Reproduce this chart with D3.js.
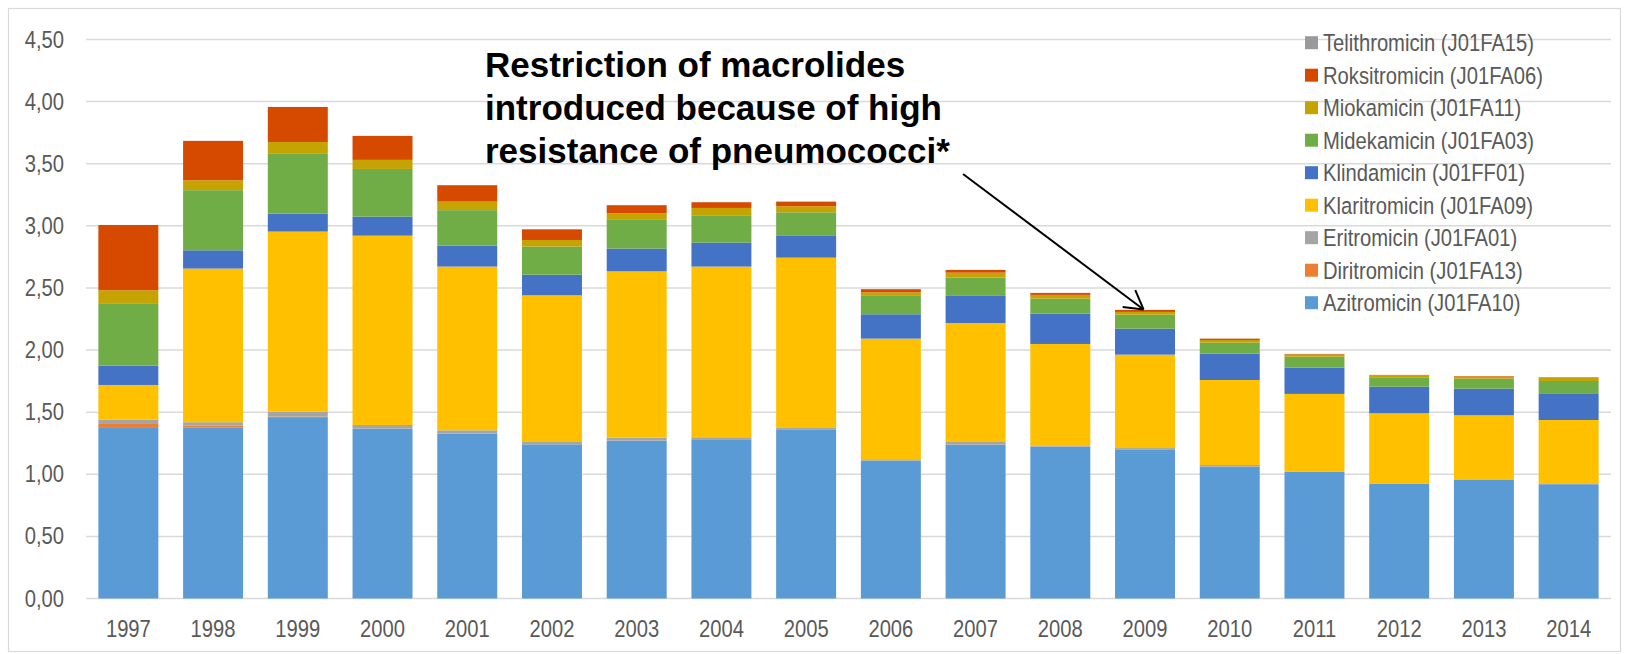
<!DOCTYPE html>
<html>
<head>
<meta charset="utf-8">
<script src="https://cdn.jsdelivr.net/npm/d3@7"></script>
<style>
  body { margin: 0; background: #fff; }
  svg text { font-family: "Liberation Sans", Arial, sans-serif; }
</style>
</head>
<body>
<div id="dataviz"></div>
<script>
// chart size
var width = 1625,
    height = 654;
// no narrow font installed, so squeeze Liberation Sans like Arial Narrow
var narrow = 0.86;

// data (DDD / 1000 inhabitants / day), stacked bottom -> top
var years = ["1997","1998","1999","2000","2001","2002","2003","2004","2005",
             "2006","2007","2008","2009","2010","2011","2012","2013","2014"];

var azitromicin   = [1.373,1.375,1.460,1.367,1.327,1.241,1.271,1.282,1.362,1.110,1.238,1.222,1.201,1.061,1.020,0.925,0.958,0.920];
var diritromicin  = [0.032,0.017,0.004,0.000,0.000,0.000,0.000,0.000,0.000,0.000,0.000,0.000,0.000,0.000,0.000,0.000,0.000,0.000];
var eritromicin   = [0.035,0.027,0.040,0.030,0.027,0.019,0.024,0.016,0.011,0.011,0.022,0.011,0.010,0.014,0.004,0.002,0.002,0.002];
var klaritromicin = [0.279,1.237,1.450,1.524,1.318,1.181,1.339,1.374,1.371,0.971,0.958,0.816,0.752,0.684,0.623,0.564,0.515,0.515];
var klindamicin   = [0.156,0.147,0.144,0.153,0.169,0.166,0.183,0.193,0.175,0.196,0.218,0.244,0.209,0.212,0.211,0.214,0.214,0.215];
var midekamicin   = [0.502,0.484,0.486,0.384,0.285,0.226,0.236,0.220,0.190,0.148,0.147,0.121,0.113,0.089,0.089,0.076,0.081,0.099];
var miokamicin    = [0.104,0.080,0.091,0.073,0.069,0.053,0.048,0.059,0.049,0.029,0.040,0.030,0.022,0.021,0.018,0.015,0.017,0.026];
var roksitromicin = [0.526,0.317,0.282,0.193,0.132,0.086,0.065,0.046,0.037,0.025,0.022,0.016,0.016,0.011,0.004,0.004,0.004,0.004];
var telitromicin  = [0,0,0,0,0,0,0,0,0,0,0,0,0,0,0,0,0,0];

var seriesNames = ["Azitromicin (J01FA10)","Diritromicin (J01FA13)","Eritromicin (J01FA01)",
                   "Klaritromicin (J01FA09)","Klindamicin (J01FF01)","Midekamicin (J01FA03)",
                   "Miokamicin (J01FA11)","Roksitromicin (J01FA06)","Telithromicin (J01FA15)"];
var seriesValues = [azitromicin, diritromicin, eritromicin, klaritromicin, klindamicin,
                    midekamicin, miokamicin, roksitromicin, telitromicin];
var seriesColors = ["#5b9bd5","#ed7d31","#a5a5a5","#ffc000","#4472c4","#70ad47","#c4a302","#d64a00","#9a9a9a"];

var yTicks = [0,0.5,1,1.5,2,2.5,3,3.5,4,4.5];

var annotation = ["Restriction of macrolides",
                  "introduced because of high",
                  "resistance of pneumococci*"];

// build rows for d3.stack
var rows = years.map(function(y, i) {
  var r = { year: y };
  seriesNames.forEach(function(n, k) { r[n] = seriesValues[k][i]; });
  return r;
});
var stacked = d3.stack().keys(seriesNames)(rows);

var svg = d3.select("#dataviz").append("svg")
    .attr("width", width)
    .attr("height", height);

// outer frame
svg.append("rect")
    .attr("x", 8.5).attr("y", 8.5)
    .attr("width", 1612).attr("height", 643)
    .attr("fill", "none")
    .attr("stroke", "#d9d9d9")
    .attr("stroke-width", 1.2);

var x = d3.scaleBand()
    .domain(years)
    .range([86, 1611])
    .paddingInner(0.292)
    .paddingOuter(0.146);

var y = d3.scaleLinear()
    .domain([0, 4.5])
    .range([598.5, 39.5]);

// gridlines
svg.append("g").selectAll("line")
  .data(yTicks)
  .enter()
  .append("line")
    .attr("x1", 86).attr("x2", 1611)
    .attr("y1", function(d) { return y(d); })
    .attr("y2", function(d) { return y(d); })
    .attr("stroke", "#d9d9d9")
    .attr("stroke-width", 1.5);

// y tick labels
var fmt = function(d) { return d3.format(".2f")(d).replace(".", ","); };
svg.append("g").selectAll("text")
  .data(yTicks)
  .enter()
  .append("text")
    .attr("transform", function(d) { return "translate(64," + (y(d) + 8) + ") scale(" + narrow + ",1)"; })
    .attr("text-anchor", "end")
    .style("font-size", "23.5px")
    .style("fill", "#595959")
    .text(fmt);

// bars
svg.append("g").selectAll("g")
  .data(stacked)
  .enter()
  .append("g")
    .attr("fill", function(d, i) { return seriesColors[i]; })
  .selectAll("rect")
  .data(function(d) { return d; })
  .enter()
  .append("rect")
    .attr("x", function(d) { return x(d.data.year); })
    .attr("y", function(d) { return y(d[1]); })
    .attr("width", x.bandwidth())
    .attr("height", function(d) { return Math.max(0, y(d[0]) - y(d[1])); });

// x labels
svg.append("g").selectAll("text")
  .data(years)
  .enter()
  .append("text")
    .attr("transform", function(d) {
      return "translate(" + (x(d) + x.bandwidth() / 2) + ",636.5) scale(" + narrow + ",1)";
    })
    .attr("text-anchor", "middle")
    .style("font-size", "23.5px")
    .style("fill", "#595959")
    .text(function(d) { return d; });

// legend (top entry = top of stack)
var legendOrder = seriesNames.map(function(n, i) { return i; }).reverse();
var legend = svg.append("g").selectAll("g")
  .data(legendOrder)
  .enter()
  .append("g")
    .attr("transform", function(d, j) { return "translate(1305," + (42.7 + j * 32.5) + ")"; });
legend.append("rect")
    .attr("x", 0).attr("y", -6.5)
    .attr("width", 13).attr("height", 13)
    .attr("fill", function(d) { return seriesColors[d]; });
legend.append("text")
    .attr("transform", "translate(18,8.3) scale(" + narrow + ",1)")
    .style("font-size", "23.5px")
    .style("fill", "#595959")
    .text(function(d) { return seriesNames[d]; });

// annotation text
svg.append("g").selectAll("text")
  .data(annotation)
  .enter()
  .append("text")
    .attr("x", 485)
    .attr("y", function(d, i) { return 76.5 + i * 43.4; })
    .style("font-weight", "bold")
    .style("font-size", "35px")
    .style("fill", "#000")
    .text(function(d) { return d; });

// arrow pointing to 2009
var i09 = years.indexOf("2009");
var tipX = x("2009") + x.bandwidth() / 2 - 1.5;
var tipY = y(stacked[stacked.length - 1][i09][1]) - 0.5;
var startX = 963, startY = 174;
var ang = Math.atan2(tipY - startY, tipX - startX);
var headLen = 21, spread = Math.PI / 6;
var arrow = svg.append("g").attr("stroke", "#000").attr("stroke-width", 2).attr("fill", "none");
arrow.append("line")
    .attr("x1", startX).attr("y1", startY)
    .attr("x2", tipX).attr("y2", tipY);
[-spread, spread].forEach(function(s) {
  arrow.append("line")
      .attr("x1", tipX).attr("y1", tipY)
      .attr("x2", tipX - headLen * Math.cos(ang + s))
      .attr("y2", tipY - headLen * Math.sin(ang + s));
});
</script>
</body>
</html>
